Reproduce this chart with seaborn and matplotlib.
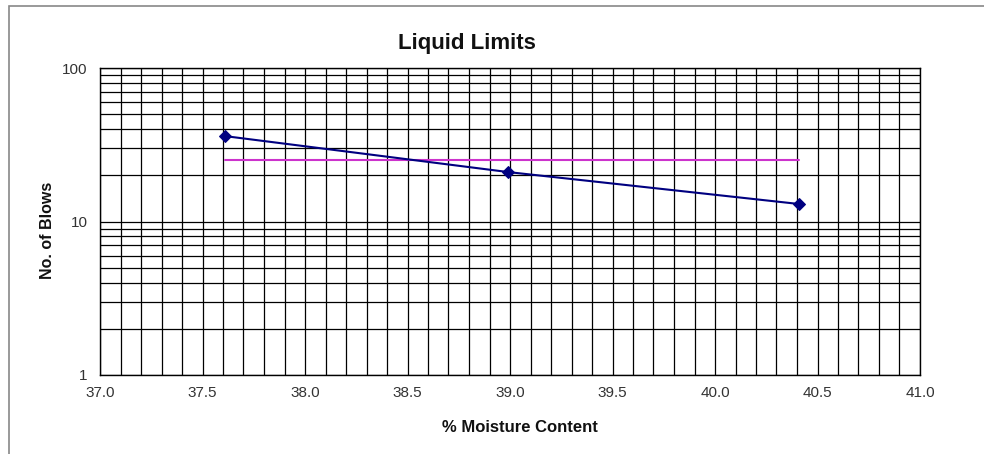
import matplotlib
matplotlib.use("Agg")
import matplotlib.pyplot as plt
import seaborn as sns
import pandas as pd
import numpy as np
from matplotlib.ticker import MultipleLocator, FixedLocator, NullFormatter, FixedFormatter
from matplotlib.patches import Rectangle

moisture = [37.61, 38.99, 40.41]
blows = [36, 21, 13]
ref_x = [37.61, 40.41]
ref_y = [25, 25]
x_ticks = [37.0, 37.5, 38.0, 38.5, 39.0, 39.5, 40.0, 40.5, 41.0]
y_ticks = [1, 10, 100]

sns.set_style("white")
plt.rcParams['font.family'] = ['Liberation Sans', 'DejaVu Sans']

fig = plt.figure(figsize=(9.84, 4.54), dpi=100)
ax = fig.add_axes([100/984, 1-375/454, 820/984, 307/454])

df = pd.DataFrame({"x": moisture, "y": blows})
ref = pd.DataFrame({"x": ref_x, "y": ref_y})

ax.set_yscale("log")
ax.set_xlim(37.0, 41.0)
ax.set_ylim(1, 100)

# grid
ax.xaxis.set_major_locator(FixedLocator(x_ticks))
ax.xaxis.set_major_formatter(FixedFormatter([f"{v:.1f}" for v in x_ticks]))
ax.xaxis.set_minor_locator(MultipleLocator(0.1))
ax.yaxis.set_major_locator(FixedLocator(y_ticks))
ax.yaxis.set_major_formatter(FixedFormatter([str(v) for v in y_ticks]))
ax.yaxis.set_minor_locator(FixedLocator([m * d for d in (1, 10) for m in range(2, 10)]))
ax.yaxis.set_minor_formatter(NullFormatter())
ax.grid(True, which="both", color="black", linewidth=0.9)
ax.set_axisbelow(True)

sns.lineplot(data=ref, x="x", y="y", ax=ax, color="#CC33CC", linewidth=1.5, zorder=3)
sns.lineplot(data=df, x="x", y="y", ax=ax, color="#000080", linewidth=1.5,
             marker="D", markersize=6, markeredgecolor="#000080", zorder=4)

for s in ax.spines.values():
    s.set_color("black")
    s.set_linewidth(1.0)

ax.tick_params(axis="both", which="major", direction="out", length=5, width=1,
               color="black", labelsize=11, labelcolor="#333333")
ax.tick_params(axis="x", which="major", pad=3)
ax.tick_params(axis="y", which="major", pad=4)
ax.tick_params(axis="both", which="minor", length=0)

fig.text(467/984, 1-43/454, "Liquid Limits", fontsize=16, fontweight="bold",
         ha="center", va="center", color="#111111")
fig.text(520/984, 1-428/454, "% Moisture Content", fontsize=12, fontweight="bold",
         ha="center", va="center", color="#111111")
fig.text(47/984, 1-230/454, "No. of Blows", fontsize=11.5, fontweight="bold",
         ha="center", va="center", rotation=90, color="#111111")
ax.set_xlabel("")
ax.set_ylabel("")

fig.patches.append(Rectangle((9/984, -0.1), 1.2, 1 - 6/454 + 0.1, transform=fig.transFigure,
                             fill=False, edgecolor="#888888", linewidth=1.2))

fig.savefig("out.png", dpi=100)
